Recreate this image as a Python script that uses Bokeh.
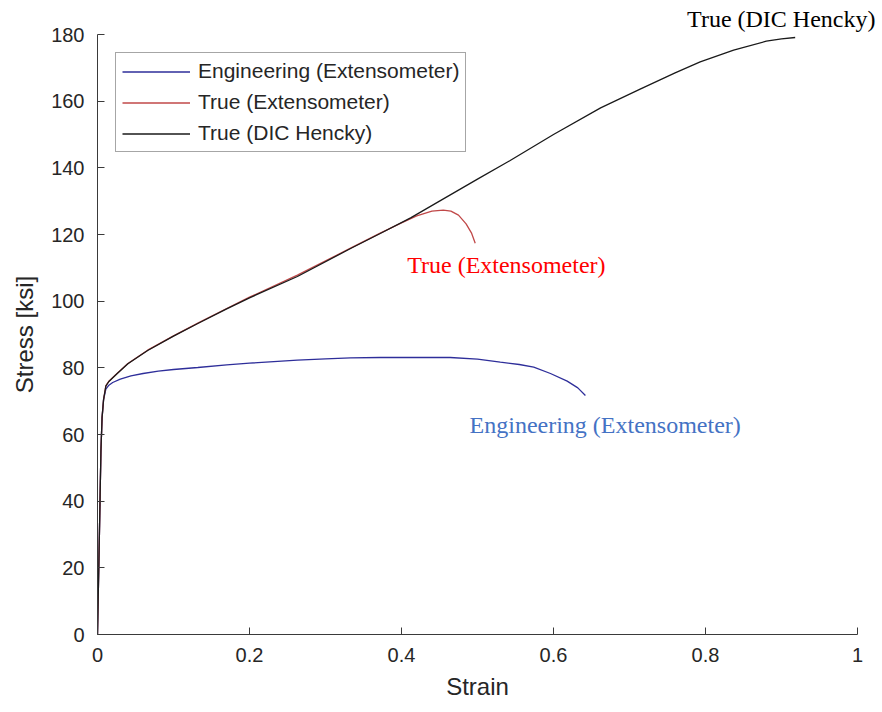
from bokeh.plotting import figure
from bokeh.models import Range1d, Legend, LegendItem, Label, FixedTicker
from bokeh.embed import file_html
from bokeh.resources import INLINE

# ---- data ----
eng_strain = [0, 0.0025, 0.0045, 0.006, 0.008, 0.011, 0.015, 0.02, 0.03, 0.044, 0.06, 0.08,
              0.1, 0.132, 0.17, 0.2, 0.263, 0.3, 0.333, 0.372, 0.4, 0.43, 0.464, 0.5, 0.53,
              0.555, 0.574, 0.596, 0.618, 0.632, 0.642]
eng_stress = [0, 30, 55, 65, 70.5, 73.6, 74.8, 75.6, 76.6, 77.6, 78.3, 79.0,
              79.5, 80.1, 80.9, 81.4, 82.3, 82.7, 83.0, 83.1, 83.1, 83.1, 83.1, 82.6, 81.7,
              81.0, 80.2, 78.3, 76.0, 74.0, 71.7]

true_strain = [0, 0.0025, 0.0045, 0.006, 0.008, 0.011, 0.015, 0.026, 0.04, 0.066, 0.1, 0.132,
               0.17, 0.2, 0.263, 0.333, 0.372, 0.4, 0.42, 0.44, 0.455, 0.465, 0.475, 0.485,
               0.492, 0.497]
true_stress = [0, 30, 55, 65, 70.5, 74.7, 76.0, 78.4, 81.3, 85.3, 89.6, 93.4,
               97.8, 101.2, 107.8, 115.9, 120.4, 123.5, 125.6, 127.0, 127.3, 127.0, 125.8, 123.2,
               120.5, 117.4]

dic_strain = [0, 0.0025, 0.0045, 0.006, 0.008, 0.011, 0.015, 0.026, 0.04, 0.066, 0.1, 0.132,
              0.17, 0.2, 0.263, 0.333, 0.372, 0.412, 0.45, 0.5, 0.543, 0.6, 0.662, 0.714,
              0.76, 0.793, 0.837, 0.88, 0.9, 0.918]
dic_stress = [0, 30, 55, 65, 70.5, 74.5, 75.9, 78.3, 81.2, 85.2, 89.5, 93.3,
              97.7, 101.0, 107.4, 115.8, 120.3, 125.0, 130.0, 136.6, 142.2, 150.0, 158.0, 163.6,
              168.5, 171.8, 175.3, 178.0, 178.7, 179.1]

x_ticks = [0, 0.2, 0.4, 0.6, 0.8, 1]
y_ticks = [0, 20, 40, 60, 80, 100, 120, 140, 160, 180]

series_names = ["Engineering (Extensometer)", "True (Extensometer)", "True (DIC Hencky)"]

# ---- figure ----
p = figure(width=882, height=712, output_backend="svg", toolbar_location=None,
           x_range=Range1d(0, 1), y_range=Range1d(0, 180),
           min_border_left=97, min_border_right=25, min_border_top=34, min_border_bottom=78)
p.outline_line_color = None
p.grid.visible = False
p.background_fill_color = "white"
p.border_fill_color = "white"

r_eng = p.line(eng_strain, eng_stress, line_color="#2e2e9a", line_width=1.3)
r_true = p.line(true_strain, true_stress, line_color="#c04848", line_width=1.3)
r_dic = p.line(dic_strain, dic_stress, line_color="#1a1a1a", line_width=1.3)

for ax in (p.xaxis[0], p.yaxis[0]):
    ax.axis_line_color = "#3a3a3a"
    ax.major_tick_line_color = "#3a3a3a"
    ax.major_tick_in = 7
    ax.major_tick_out = 0
    ax.minor_tick_line_color = None
    ax.major_label_text_font = "Liberation Sans"
    ax.major_label_text_font_size = "20px"
    ax.major_label_text_color = "#262626"
    ax.axis_label_text_font = "Liberation Sans"
    ax.axis_label_text_font_size = "24px"
    ax.axis_label_text_font_style = "normal"
    ax.axis_label_text_color = "#262626"
    ax.major_label_standoff = 13

p.xaxis[0].ticker = FixedTicker(ticks=x_ticks)
p.yaxis[0].ticker = FixedTicker(ticks=y_ticks)
p.xaxis[0].major_label_overrides = {0: "0", 1: "1"}
p.xaxis[0].axis_label = "Strain"
p.yaxis[0].axis_label = "Stress [ksi]"
p.xaxis[0].axis_label_standoff = 8
p.yaxis[0].axis_label_standoff = 10

legend = Legend(items=[LegendItem(label=series_names[0], renderers=[r_eng]),
                       LegendItem(label=series_names[1], renderers=[r_true]),
                       LegendItem(label=series_names[2], renderers=[r_dic])],
                location="top_left", margin=18, padding=6, spacing=7,
                glyph_width=68, glyph_height=21, label_height=21, label_standoff=8,
                label_text_font="Liberation Sans", label_text_font_size="21px",
                label_text_color="#262626",
                border_line_color="#4d4d4d", border_line_width=1,
                background_fill_color="white", background_fill_alpha=1)
p.add_layout(legend)

ann_font = "Liberation Serif"
# label above the frame, drawn as the plot title so it is not clipped
p.title.text = series_names[2]
p.title.align = "right"
p.title.offset = -18
p.title.text_font = ann_font
p.title.text_font_size = "24px"
p.title.text_font_style = "normal"
p.title.text_color = "black"
p.title.standoff = 6

p.add_layout(Label(x=0.538, y=111.0, text=series_names[1], text_font=ann_font,
                   text_font_size="24px", text_color="#ff0000",
                   text_align="center", text_baseline="middle"))
p.add_layout(Label(x=0.668, y=63.0, text=series_names[0], text_font=ann_font,
                   text_font_size="24px", text_color="#4472c4",
                   text_align="center", text_baseline="middle"))

open("out.html", "w").write(file_html(p, INLINE))
